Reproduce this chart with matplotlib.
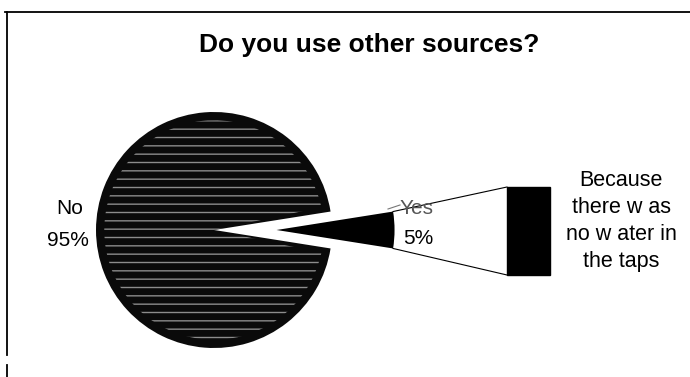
import numpy as np
import matplotlib
matplotlib.use("Agg")
import matplotlib.pyplot as plt
from matplotlib.patches import Wedge

plt.rcParams['font.family'] = ['Liberation Sans', 'DejaVu Sans']
plt.rcParams['hatch.linewidth'] = 1.0

title = "Do you use other sources?"
answers = ["Yes", "No"]
shares = [5, 95]
# breakdown of the "Yes" answers, shown as the stacked bar
reasons = ["Because\nthere w as\nno w ater in\nthe taps"]
reason_shares = [100]

fig = plt.figure(figsize=(6.9, 3.77), dpi=100)
ax = fig.add_axes([0, 0, 1, 1])

pie_c = (214, 230)
pie_r = 118
wedges, _ = ax.pie(shares, radius=pie_r, center=pie_c, startangle=-9,
                   explode=[0.53 * pie_r, 0], colors=["black", "#0a0a0a"],
                   wedgeprops=dict(linewidth=0), frame=True)

# streaky fill on the big slice
no = wedges[1]
ax.add_patch(Wedge(no.center, no.r * 0.93, no.theta1 + 3, no.theta2 - 3,
                   fill=False, hatch="--", edgecolor="#8c8c8c", linewidth=0))

# bar of the "Yes" slice
bar_x, bar_w, bar_top, bar_h = 528.5, 43, 187, 88
bottom = bar_top
for s in reason_shares:
    h = bar_h * s / 100
    ax.bar(bar_x, h, width=bar_w, bottom=bottom, color="black",
           edgecolor="black", linewidth=1)
    bottom += h

# connector lines from the slice to the bar
yes = wedges[0]
cx, cy = yes.center
for th, by in [(yes.theta1, bar_top), (yes.theta2, bar_top + bar_h)]:
    # y axis is flipped, so the lower angle lands on top
    px = cx + yes.r * np.cos(np.radians(th))
    py = cy + yes.r * np.sin(np.radians(th))
    ax.plot([px, bar_x - bar_w / 2], [py, by], color="black", lw=0.8)

# labels
fs = 15
ax.text(70, 208, answers[1], ha="center", va="center", fontsize=fs)
ax.text(68, 240, f"{shares[1]}%", ha="center", va="center", fontsize=fs)
ax.text(417, 208, answers[0], ha="center", va="center", fontsize=fs,
        color="#555555")
ax.text(418, 239, f"{shares[0]}%", ha="center", va="center", fontsize=fs)
ax.plot([388, 400], [209, 205], color="#777777", lw=0.8)
ax.text(621, 221, reasons[0], ha="center", va="center", fontsize=15.5,
        linespacing=1.38)

ax.text(369, 45, title, ha="center", va="center", fontsize=19,
        fontweight="bold")

# outer frame (top and left edges)
ax.plot([5, 690], [12, 12], color="black", lw=1.3)
ax.plot([7, 7], [12, 355], color="black", lw=1.3)
ax.plot([7, 7], [365, 377], color="black", lw=1.3)

ax.set_xlim(0, 690)
ax.set_ylim(377, 0)
ax.set_aspect("auto")
ax.axis("off")

fig.savefig("out.png", dpi=100)
